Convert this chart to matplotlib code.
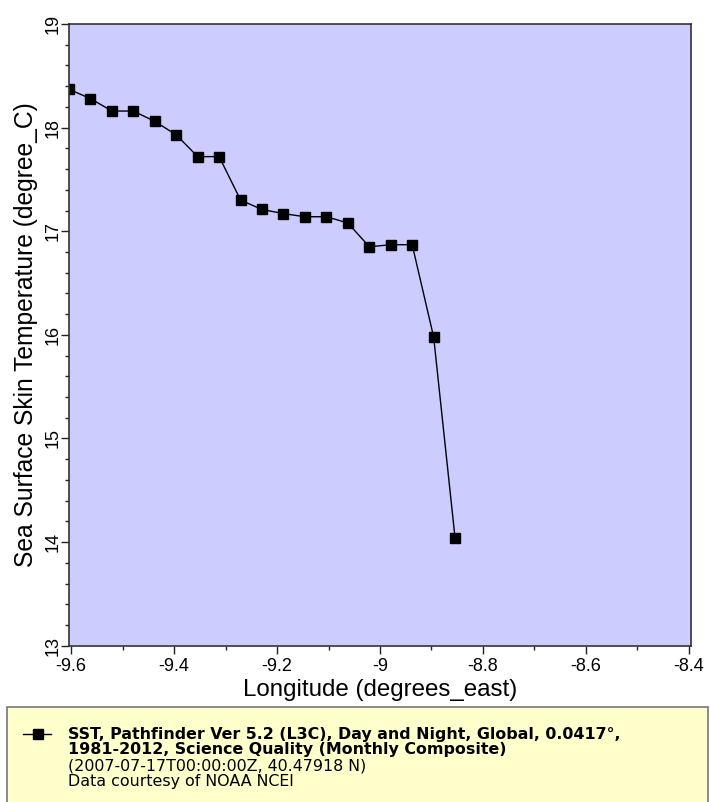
import matplotlib
matplotlib.use('Agg')
import matplotlib.pyplot as plt
from matplotlib.ticker import MultipleLocator, FormatStrFormatter
from matplotlib.patches import Rectangle
from matplotlib.lines import Line2D

# longitude (degrees_east) and SST (degree_C)
lon = [-9.6042, -9.5625, -9.5208, -9.4792, -9.4375, -9.3958, -9.3542, -9.3125,
       -9.2708, -9.2292, -9.1875, -9.1458, -9.1042, -9.0625, -9.0208, -8.9792,
       -8.9375, -8.8958, -8.8542]
sst = [18.37, 18.28, 18.16, 18.16, 18.06, 17.93, 17.72, 17.72,
       17.30, 17.21, 17.17, 17.14, 17.14, 17.08, 16.85, 16.87,
       16.87, 15.98, 14.04]

x_label = "Longitude (degrees_east)"
y_label = "Sea Surface Skin Temperature (degree_C)"
legend_bold = ["SST, Pathfinder Ver 5.2 (L3C), Day and Night, Global, 0.0417°,",
               "1981-2012, Science Quality (Monthly Composite)"]
legend_plain = ["(2007-07-17T00:00:00Z, 40.47918 N)",
                "Data courtesy of NOAA NCEI"]

W, H = 710, 802
fig = plt.figure(figsize=(W / 100, H / 100), dpi=100)
ax = fig.add_axes([69 / W, 1 - 645.7 / H, (691 - 69) / W, (645.7 - 24) / H])
ax.set_facecolor('#ccccff')

ax.plot(lon, sst, color='black', lw=1.0, marker='s', markersize=7.3,
        markerfacecolor='black', markeredgecolor='black')

ax.set_xlim(-9.6042, -8.3958)
ax.set_ylim(13, 19)
ax.xaxis.set_major_locator(MultipleLocator(0.2))
ax.xaxis.set_minor_locator(MultipleLocator(0.1))
ax.yaxis.set_major_locator(MultipleLocator(1))
ax.yaxis.set_minor_locator(MultipleLocator(0.2))
ax.xaxis.set_major_formatter(FormatStrFormatter('%g'))
ax.yaxis.set_major_formatter(FormatStrFormatter('%g'))

ax.tick_params(which='major', direction='out', length=6, width=1, color='#222222')
ax.tick_params(which='minor', direction='out', length=3, width=1, color='#222222')
for lab in ax.get_xticklabels():
    lab.set_fontfamily('Liberation Sans'); lab.set_fontsize(13)
for lab in ax.get_yticklabels():
    lab.set_fontfamily('Liberation Sans'); lab.set_fontsize(13)
    lab.set_rotation(90); lab.set_va('center')
ax.tick_params(axis='x', pad=3)
ax.tick_params(axis='y', pad=-1)

for s in ax.spines.values():
    s.set_color('#333333')
    s.set_linewidth(1.2)

ax.set_xlabel(x_label, fontfamily='Liberation Sans', fontsize=17.4, labelpad=3)
ax.set_ylabel(y_label, fontfamily='Liberation Sans', fontsize=17.7, labelpad=0)
ax.yaxis.set_label_coords(-31 / (691 - 69), 0.5)

# legend box at the bottom
fig.patches.append(Rectangle((7 / W, -0.01), (708 - 7) / W, (H - 707) / H + 0.01,
                             transform=fig.transFigure, facecolor='#ffffcc',
                             edgecolor='#777777', lw=1.2))
ly = 1 - 734 / H
fig.lines.append(Line2D([23 / W, 51 / W], [ly, ly], transform=fig.transFigure,
                        color='black', lw=1.0))
fig.lines.append(Line2D([38 / W], [ly], transform=fig.transFigure, color='black',
                        marker='s', markersize=6.5, linestyle='none'))
rows = [(t, 'bold') for t in legend_bold] + [(t, 'normal') for t in legend_plain]
for i, (t, w) in enumerate(rows):
    fig.text(68 / W, 1 - (734 + i * 15.8) / H, t, fontfamily='DejaVu Sans',
             fontsize=11.4, fontweight=w, va='center', ha='left')

fig.savefig('out.png', dpi=100)
